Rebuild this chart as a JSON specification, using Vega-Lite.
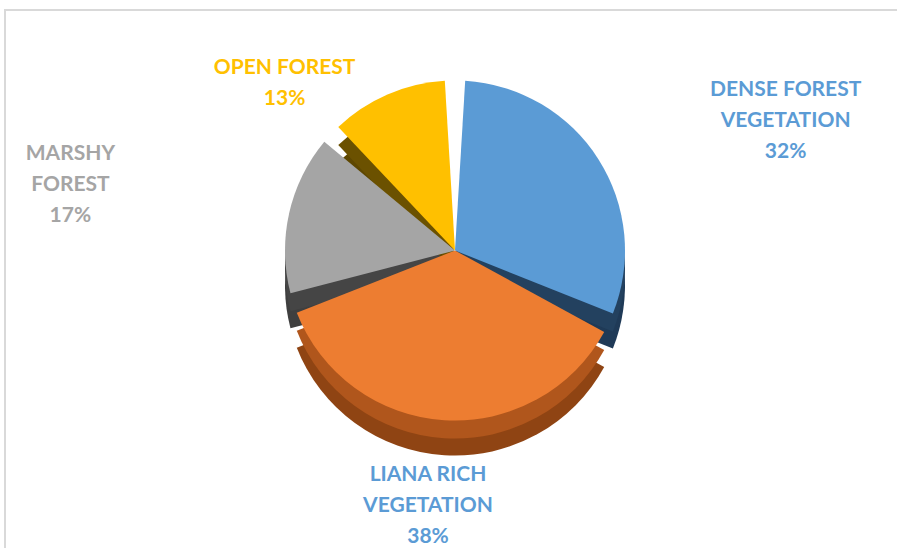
{
  "$schema": "https://vega.github.io/schema/vega-lite/v6.json",
  "width": 900,
  "height": 545,
  "autosize": {"type": "none"},
  "padding": {"left": 5, "top": 10, "right": 0, "bottom": 0},
  "background": "white",
  "config": {"view": {"stroke": null}},
  "data": {
    "values": [
      {"name": "Dense Forest Vegetation", "label": "DENSE FOREST\nVEGETATION", "value": 32, "order": 1},
      {"name": "Liana Rich Vegetation", "label": "LIANA RICH\nVEGETATION", "value": 38, "order": 2},
      {"name": "Marshy Forest", "label": "MARSHY\nFOREST", "value": 17, "order": 3},
      {"name": "Open Forest", "label": "OPEN FOREST", "value": 13, "order": 4}
    ]
  },
  "transform": [
    {"stack": "value", "groupby": [], "sort": [{"field": "order", "order": "ascending"}], "as": ["v0", "v1"]},
    {"calculate": "(datum.v0 + datum.v1) / 2", "as": "mid"},
    {"calculate": "datum.label + '\\n' + datum.value + '%'", "as": "text"}
  ],
  "layer": [
    {
      "transform": [{"filter": "datum.order == 1"}],
      "mark": {"type": "rect", "fill": null, "stroke": "#D9D9D9", "strokeWidth": 2},
      "encoding": {}
    },
    {
      "mark": {"type": "arc", "radius": 170, "padAngle": 0.12, "yOffset": 3},
      "encoding": {
        "theta": {"field": "v0", "type": "quantitative", "scale": {"domain": [0, 100]}},
        "theta2": {"field": "v1"},
        "color": {"field": "name", "type": "nominal", "legend": null,
          "scale": {"domain": ["Dense Forest Vegetation", "Liana Rich Vegetation", "Marshy Forest", "Open Forest"],
                    "range": ["#1F3A57", "#8F4413", "#3F3F3F", "#5E4700"]}}
      }
    },
    {
      "mark": {"type": "arc", "radius": 170, "padAngle": 0.12, "yOffset": -14},
      "encoding": {
        "theta": {"field": "v0", "type": "quantitative", "scale": {"domain": [0, 100]}},
        "theta2": {"field": "v1"},
        "color": {"field": "name", "type": "nominal", "legend": null,
          "scale": {"domain": ["Dense Forest Vegetation", "Liana Rich Vegetation", "Marshy Forest", "Open Forest"],
                    "range": ["#23415F", "#B0561C", "#454545", "#6B5100"]}}
      }
    },
    {
      "mark": {"type": "arc", "radius": 170, "padAngle": 0.12, "yOffset": -32},
      "encoding": {
        "theta": {"field": "v0", "type": "quantitative", "scale": {"domain": [0, 100]}},
        "theta2": {"field": "v1"},
        "color": {"field": "name", "type": "nominal", "legend": null,
          "scale": {"domain": ["Dense Forest Vegetation", "Liana Rich Vegetation", "Marshy Forest", "Open Forest"],
                    "range": ["#5B9BD5", "#ED7D31", "#A5A5A5", "#FFC000"]}}
      }
    },
    {
      "transform": [{"filter": "datum.order == 1"}],
      "mark": {"type": "text", "radius": 330, "yOffset": -32, "dx": 52, "dy": 16, "lineBreak": "\n", "lineHeight": 31,
               "font": "Lato", "fontWeight": "bold", "fontSize": 21, "color": "#5B9BD5", "align": "center", "baseline": "middle"},
      "encoding": {"theta": {"field": "mid", "type": "quantitative", "scale": {"domain": [0, 100]}}, "text": {"field": "text"}}
    },
    {
      "transform": [{"filter": "datum.order == 2"}],
      "mark": {"type": "text", "radius": 255, "yOffset": -32, "dx": -11, "dy": -30, "lineBreak": "\n", "lineHeight": 31,
               "font": "Lato", "fontWeight": "bold", "fontSize": 21, "color": "#5B9BD5", "align": "center", "baseline": "middle"},
      "encoding": {"theta": {"field": "mid", "type": "quantitative", "scale": {"domain": [0, 100]}}, "text": {"field": "text"}}
    },
    {
      "transform": [{"filter": "datum.order == 3"}],
      "mark": {"type": "text", "radius": 390, "yOffset": -32, "dx": -4, "dy": -11, "lineBreak": "\n", "lineHeight": 31,
               "font": "Lato", "fontWeight": "bold", "fontSize": 21, "color": "#A5A5A5", "align": "center", "baseline": "middle"},
      "encoding": {"theta": {"field": "mid", "type": "quantitative", "scale": {"domain": [0, 100]}}, "text": {"field": "text"}}
    },
    {
      "transform": [{"filter": "datum.order == 4"}],
      "mark": {"type": "text", "radius": 200, "yOffset": -32, "dx": -91, "dy": 1, "lineBreak": "\n", "lineHeight": 31,
               "font": "Lato", "fontWeight": "bold", "fontSize": 21, "color": "#FFC000", "align": "center", "baseline": "middle"},
      "encoding": {"theta": {"field": "mid", "type": "quantitative", "scale": {"domain": [0, 100]}}, "text": {"field": "text"}}
    }
  ],
  "resolve": {"scale": {"color": "independent"}}
}
